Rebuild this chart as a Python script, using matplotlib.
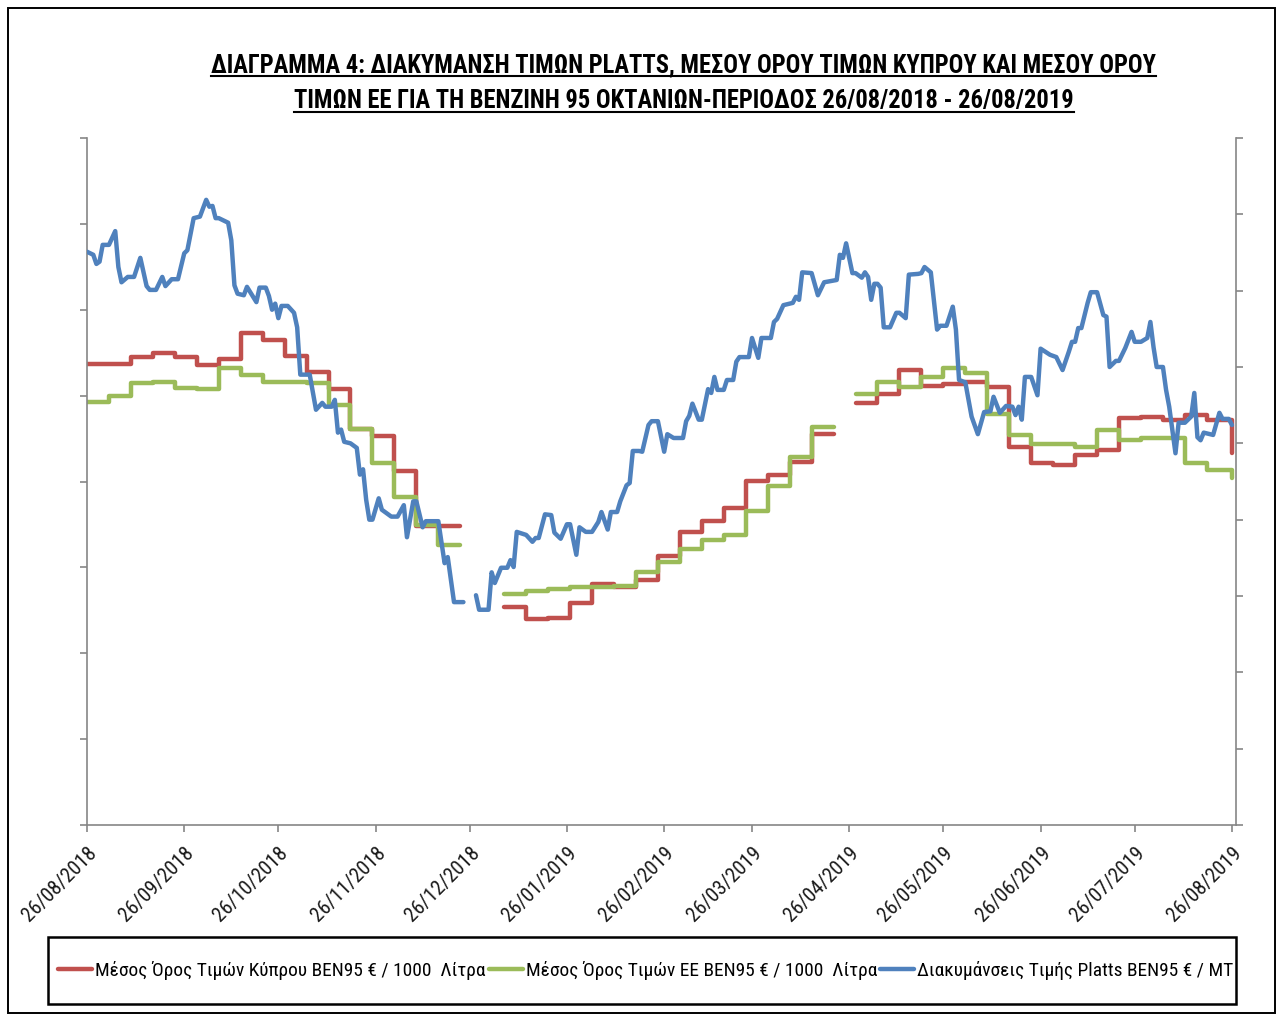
import numpy as np
import pandas as pd
import matplotlib
matplotlib.use('Agg')
import matplotlib.pyplot as plt
import matplotlib.dates as mdates
from matplotlib import font_manager
from matplotlib.font_manager import FontProperties
from matplotlib.patches import Rectangle
from matplotlib.lines import Line2D

# ---------------- data ----------------
title_lines = [
    "ΔΙΑΓΡΑΜΜΑ 4: ΔΙΑΚΥΜΑΝΣΗ ΤΙΜΩΝ PLATTS, ΜΕΣΟΥ ΟΡΟΥ ΤΙΜΩΝ ΚΥΠΡΟΥ ΚΑΙ ΜΕΣΟΥ ΟΡΟΥ",
    "ΤΙΜΩΝ ΕΕ ΓΙΑ ΤΗ ΒΕΝΖΙΝΗ 95 ΟΚΤΑΝΙΩΝ-ΠΕΡΙΟΔΟΣ 26/08/2018 - 26/08/2019",
]
series_labels = [
    "Μέσος Όρος Τιμών Κύπρου ΒΕΝ95 € / 1000  Λίτρα",
    "Μέσος Όρος Τιμών ΕΕ ΒΕΝ95 € / 1000  Λίτρα",
    "Διακυμάνσεις Τιμής Platts BEN95 € / MT",
]

week_dates = list(pd.date_range('2018-08-26', periods=53, freq='7D'))
end_date = pd.Timestamp('2019-08-26')
nan = np.nan
cyprus_weekly = [537, 537, 545, 550, 545, 536, 543, 573, 565, 546, 528, 508, 461, 453, 412, 348, 348,
                 nan, nan,
                 254, 240, 241, 259, 281, 277, 285, 313, 341, 354, 369, 401, 408, 423, 455,
                 nan,
                 491, 502, 530, 511, 514, 516, 510, 440, 422, 419, 431, 437, 474, 475, 472, 477, 472, 472]
cyprus_end = 433
eu_weekly = [493, 500, 515, 516, 509, 508, 532, 524, 516, 516, 515, 489, 461, 422, 382, 349, 326,
             nan, nan,
             269, 273, 275, 277, 277, 278, 295, 306, 321, 332, 338, 366, 395, 429, 464,
             nan,
             502, 516, 510, 522, 532, 526, 479, 454, 444, 444, 440, 460, 448, 451, 451, 422, 413, 413]
eu_end = 404

platts_dates = [
    '2018-08-26', '2018-08-28', '2018-08-29', '2018-08-30', '2018-08-31',
    '2018-09-02', '2018-09-04', '2018-09-05', '2018-09-06', '2018-09-08', '2018-09-10', '2018-09-12',
    '2018-09-14', '2018-09-15', '2018-09-17', '2018-09-19', '2018-09-20', '2018-09-22', '2018-09-24',
    '2018-09-26', '2018-09-27', '2018-09-29',
    '2018-10-01', '2018-10-03', '2018-10-04', '2018-10-05', '2018-10-06', '2018-10-07', '2018-10-10',
    '2018-10-11', '2018-10-12', '2018-10-13', '2018-10-15', '2018-10-16', '2018-10-19', '2018-10-20',
    '2018-10-22', '2018-10-23', '2018-10-24', '2018-10-25', '2018-10-26', '2018-10-27', '2018-10-29',
    '2018-10-31',
    '2018-11-01', '2018-11-02', '2018-11-05', '2018-11-07', '2018-11-09', '2018-11-10', '2018-11-12',
    '2018-11-13', '2018-11-14', '2018-11-15', '2018-11-16', '2018-11-18', '2018-11-20', '2018-11-21',
    '2018-11-22', '2018-11-23', '2018-11-24', '2018-11-25', '2018-11-27', '2018-11-28',
    '2018-12-01', '2018-12-03', '2018-12-05', '2018-12-06', '2018-12-08', '2018-12-09', '2018-12-11',
    '2018-12-12', '2018-12-16', '2018-12-18', '2018-12-19', '2018-12-21', '2018-12-24', '2018-12-26',
    '2018-12-28', '2018-12-29',
    '2019-01-01', '2019-01-02', '2019-01-03', '2019-01-05', '2019-01-07', '2019-01-08', '2019-01-09',
    '2019-01-10', '2019-01-13', '2019-01-15', '2019-01-16', '2019-01-17', '2019-01-19', '2019-01-21',
    '2019-01-22', '2019-01-24', '2019-01-26', '2019-01-27', '2019-01-29', '2019-01-30',
    '2019-02-01', '2019-02-03', '2019-02-05', '2019-02-06', '2019-02-08', '2019-02-09', '2019-02-11',
    '2019-02-12', '2019-02-14', '2019-02-15', '2019-02-16', '2019-02-18', '2019-02-19', '2019-02-21',
    '2019-02-22', '2019-02-24', '2019-02-26', '2019-02-27',
    '2019-03-01', '2019-03-04', '2019-03-05', '2019-03-06', '2019-03-07', '2019-03-09', '2019-03-10',
    '2019-03-12', '2019-03-13', '2019-03-14', '2019-03-15', '2019-03-17', '2019-03-18', '2019-03-20',
    '2019-03-21', '2019-03-22', '2019-03-25', '2019-03-26', '2019-03-28', '2019-03-29',
    '2019-04-01', '2019-04-02', '2019-04-03', '2019-04-05', '2019-04-08', '2019-04-09', '2019-04-10',
    '2019-04-11', '2019-04-14', '2019-04-16', '2019-04-18', '2019-04-22', '2019-04-23', '2019-04-24',
    '2019-04-25', '2019-04-27', '2019-04-28', '2019-04-30',
    '2019-05-01', '2019-05-02', '2019-05-03', '2019-05-04', '2019-05-05', '2019-05-06', '2019-05-07',
    '2019-05-09', '2019-05-11', '2019-05-12', '2019-05-14', '2019-05-15', '2019-05-18', '2019-05-19',
    '2019-05-20', '2019-05-22', '2019-05-24', '2019-05-25', '2019-05-27', '2019-05-29', '2019-05-30',
    '2019-05-31',
    '2019-06-02', '2019-06-04', '2019-06-06', '2019-06-08', '2019-06-10', '2019-06-11', '2019-06-13',
    '2019-06-15', '2019-06-17', '2019-06-18', '2019-06-19', '2019-06-20', '2019-06-21', '2019-06-23',
    '2019-06-25', '2019-06-26', '2019-06-29',
    '2019-07-01', '2019-07-03', '2019-07-05', '2019-07-06', '2019-07-07', '2019-07-08', '2019-07-09',
    '2019-07-11', '2019-07-12', '2019-07-14', '2019-07-16', '2019-07-17', '2019-07-18', '2019-07-20',
    '2019-07-21', '2019-07-23', '2019-07-25', '2019-07-26', '2019-07-28', '2019-07-30', '2019-07-31',
    '2019-08-01', '2019-08-02', '2019-08-04', '2019-08-05', '2019-08-06', '2019-08-08', '2019-08-09',
    '2019-08-11', '2019-08-13', '2019-08-14', '2019-08-15', '2019-08-16', '2019-08-17', '2019-08-19',
    '2019-08-20', '2019-08-22', '2019-08-23', '2019-08-25', '2019-08-26',
]
platts_values = [
    751, 747, 735, 738, 760,
    760, 778, 731, 711, 718, 718, 743, 706, 701, 701, 718, 706, 715, 715, 749, 753, 795,
    797, 819, 810, 811, 795, 795, 789, 766, 707, 696, 694, 705, 685, 704, 704, 693, 675, 683, 664, 680,
    680, 671,
    652, 590, 590, 544, 553, 548, 548, 557, 514, 518, 502, 500, 494, 459, 466, 426, 400, 400, 428, 413,
    404, 404, 419, 377, 424, 424, 390, 398, 398, 343, 351, 292, 292, nan, 301, 282,
    282, 331, 317, 337, 337, 347, 338, 384, 380, 371, 376, 376, 407, 406, 383, 375, 394, 394, 354, 390,
    384, 384, 397, 410, 387, 410, 410, 424, 445, 448, 490, 490, 489, 524, 529, 529, 489, 512,
    507, 507, 529, 536, 552, 531, 531, 571, 566, 587, 570, 570, 583, 583, 607, 613, 613, 638, 612, 638,
    638, 659, 663, 681, 684, 692, 688, 724, 723, 694, 711, 714, 747, 743, 762, 723, 723, 717,
    724, 718, 688, 709, 709, 704, 652, 652, 671, 671, 664, 721, 722, 723, 731, 724, 649, 654, 654, 679,
    649, 583,
    580, 535, 512, 541, 542, 561, 540, 549, 548, 537, 548, 531, 587, 587, 563, 624, 616,
    613, 596, 620, 633, 633, 651, 651, 684, 698, 698, 668, 666, 600, 608, 608, 625, 646, 633, 633, 638,
    659,
    626, 600, 600, 570, 548, 487, 527, 527, 535, 566, 508, 504, 514, 512, 511, 540, 532, 532, 524,
]
assert len(platts_dates) == len(platts_values)

month_ticks = pd.date_range('2018-08-26', '2019-08-26', freq=pd.DateOffset(months=1))
left_ticks = list(range(0, 801, 100))
right_ticks = list(range(0, 901, 100))

# ---------------- fonts ----------------
names = {f.name for f in font_manager.fontManager.ttflist}
def pick(cands):
    for c in cands:
        if c in names:
            return c
    return 'DejaVu Sans'
narrow = pick(['Liberation Sans Narrow', 'Roboto Condensed', 'Open Sans Condensed',
               'DejaVu Sans Condensed', 'Liberation Sans'])

# ---------------- figure ----------------
W, H = 1281, 1018
fig = plt.figure(figsize=(W / 100, H / 100), dpi=100)
fig.patch.set_facecolor('white')

def fx(px):
    return px / W

def fy(py):
    return 1 - py / H

ax = fig.add_axes([fx(87), fy(825), fx(1236) - fx(87), fy(138) - fy(825)])
ax2 = ax.twinx()

RED, GREEN, BLUE = '#C0504D', '#9BBB59', '#4F81BD'
LW = 3.2
step_dates = week_dates + [end_date]
l1, = ax.plot(step_dates, cyprus_weekly + [cyprus_end], color=RED, lw=LW,
              drawstyle='steps-post', solid_joinstyle='round', solid_capstyle='round')
l2, = ax.plot(step_dates, eu_weekly + [eu_end], color=GREEN, lw=LW,
              drawstyle='steps-post', solid_joinstyle='round', solid_capstyle='round')
l3, = ax2.plot(pd.to_datetime(platts_dates), platts_values, color=BLUE, lw=LW,
               solid_joinstyle='round', solid_capstyle='round')

x0 = pd.Timestamp('2018-08-26')
x1 = pd.Timestamp('2019-08-26') + pd.Timedelta(hours=31)
ax.set_xlim(x0, x1)
ax.set_ylim(0, 800)
ax2.set_ylim(0, 900)
ax.set_yticks(left_ticks)
ax2.set_yticks(right_ticks)

GRAY = '#868686'
for a in (ax, ax2):
    a.set_facecolor('none')
    a.spines['top'].set_visible(False)
    for s in ('left', 'right', 'bottom'):
        a.spines[s].set_color(GRAY)
        a.spines[s].set_linewidth(1.2)
ax.spines['right'].set_visible(False)
ax2.spines['left'].set_visible(False)
ax2.spines['bottom'].set_visible(False)

ax.tick_params(axis='y', direction='out', length=5, width=1.2, color=GRAY, labelleft=False)
ax2.tick_params(axis='y', direction='out', length=5, width=1.2, color=GRAY, labelright=False)

ax.set_xticks(month_ticks)
ax.xaxis.set_major_formatter(mdates.DateFormatter('%d/%m/%Y'))
tick_fp = FontProperties(family=narrow, size=12)
ax.tick_params(axis='x', direction='out', length=5, width=1.2, color=GRAY, pad=8,
               labelcolor='#1a1a1a')
for lab in ax.get_xticklabels():
    lab.set_fontproperties(tick_fp)
    lab.set_rotation(45)
    lab.set_ha('right')
    lab.set_va('top')
    lab.set_rotation_mode('anchor')

# titles
title_fp = FontProperties(family=narrow, weight='bold', size=16)
t1 = fig.text(fx(683.5), fy(72), title_lines[0], ha='center', va='baseline',
              fontproperties=title_fp, color='black')
t2 = fig.text(fx(684), fy(108), title_lines[1], ha='center', va='baseline',
              fontproperties=title_fp, color='black')

fig.add_artist(Rectangle((fx(48), fy(1004)), fx(1236) - fx(48), fy(937) - fy(1004),
                         transform=fig.transFigure, fill=False, ec='black', lw=1.8))
fig.add_artist(Rectangle((fx(8), fy(1013)), fx(1275) - fx(8), fy(8) - fy(1013),
                         transform=fig.transFigure, fill=False, ec='black', lw=1.4))

# ---- size text to match reference widths ----
fig.canvas.draw()
r = fig.canvas.get_renderer()
w1 = t1.get_window_extent(r).width
tsize = 16 * 947 / w1
t1.set_fontsize(tsize)
t2.set_fontsize(tsize)

probe = fig.text(0, 0, '26/09/2018', fontproperties=tick_fp)
pw = probe.get_window_extent(r).width
probe.remove()
tk = 12 * 96 / pw
for lab in ax.get_xticklabels():
    lab.set_fontsize(tk)

probe = fig.text(0, 0, series_labels[0], fontproperties=FontProperties(family=narrow, size=12))
lw0 = probe.get_window_extent(r).width
probe.remove()
ls = 12 * 390 / lw0
fpx = ls * 100 / 72
leg_fp = FontProperties(family=narrow, size=ls)
leg = fig.legend([l1, l2, l3], series_labels, loc='center left',
                 bbox_to_anchor=(fx(58), fy(970)), ncol=3, frameon=False, prop=leg_fp,
                 handlelength=34 / fpx, handletextpad=3 / fpx, columnspacing=3 / fpx,
                 borderaxespad=0, borderpad=0)

fig.canvas.draw()
r = fig.canvas.get_renderer()
for t, base in ((t1, 72), (t2, 108)):
    bb = t.get_window_extent(r)
    y = fy(base + 4)
    fig.add_artist(Line2D([bb.x0 / W, bb.x1 / W], [y, y], transform=fig.transFigure,
                          color='black', lw=1.5))

fig.savefig('out.png', dpi=100, facecolor='white')
